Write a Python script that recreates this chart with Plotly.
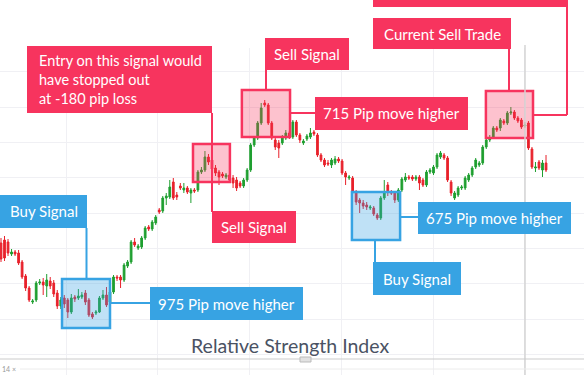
import plotly.graph_objects as go

# ---- data (price levels, arbitrary units) ----
opens = [117,120,118,106,108,107,98,84,72,58,60,77,78,74,79,77,67,54,62,60,48,63,62,63,67,60,46,47,48,62,
         65,58,68,83,83,80,94,98,118,112,113,122,133,131,137,150,149,162,163,178,165,174,170,172,167,170,170,188,190,203,
         200,192,188,186,183,185,182,180,177,174,180,190,215,222,237,257,255,237,220,217,217,222,227,223,238,225,217,221,223,228,
         225,205,200,197,195,197,201,199,187,182,182,168,160,157,155,152,152,145,142,162,175,168,167,160,170,180,183,183,181,183,
         180,175,188,187,193,203,205,202,178,162,165,172,172,180,185,193,195,197,213,220,223,232,232,239,237,247,248,242,240,234,
         237,211,192,198,190,197]
highs = [122,124,121,111,110,110,100,86,74,61,79,81,82,86,83,80,70,63,65,62,66,65,71,68,70,62,48,50,64,70,
         73,70,85,85,85,97,100,120,122,116,124,134,135,140,145,152,164,167,180,182,168,177,177,174,172,172,190,193,209,206,
         202,195,190,188,187,187,185,183,179,182,192,217,224,239,257,260,257,239,223,220,225,230,229,240,240,227,221,226,232,230,
         227,207,202,200,202,204,203,201,189,185,184,170,162,160,158,155,154,147,164,180,178,170,169,172,183,187,185,185,185,185,
         182,190,192,195,207,209,207,204,180,169,174,175,184,187,194,202,199,215,222,225,234,234,242,241,249,253,250,244,242,238,
         239,213,198,200,200,205]
lows = [98,99,104,104,104,95,81,69,58,56,58,75,65,63,71,63,51,51,52,42,46,58,60,61,55,43,41,45,47,60,
        53,56,66,79,72,78,92,96,113,110,111,120,129,129,135,146,147,155,161,160,160,170,167,166,157,167,168,186,188,195,
        188,184,175,182,181,178,172,169,172,172,178,188,213,220,235,253,235,220,210,202,215,220,221,221,223,217,215,219,221,224,
        203,198,193,194,192,195,197,185,175,180,166,155,147,151,150,150,144,140,140,160,164,165,157,158,168,178,180,179,179,170,
        173,173,186,185,191,201,200,178,164,160,163,170,170,178,183,191,193,195,211,218,221,228,229,235,235,245,240,237,231,232,
        210,191,188,190,183,188]
closes = [101,102,107,108,106,97,83,72,60,59,77,78,75,80,74,66,54,60,56,48,62,61,64,65,58,45,43,48,62,65,
          55,68,83,82,80,95,98,118,115,114,122,132,131,138,143,148,162,164,173,162,163,172,172,168,170,169,188,190,203,198,
          191,187,183,184,185,180,177,172,174,180,190,215,222,237,252,255,237,222,213,212,222,227,223,238,225,220,219,224,227,226,
          205,200,195,196,200,201,199,187,183,183,168,158,157,154,153,153,146,142,162,167,168,167,160,170,181,183,182,181,183,177,
          175,188,190,193,205,207,202,180,167,167,172,173,182,185,192,200,197,213,220,222,232,230,240,237,247,248,242,239,233,235,
          212,193,193,192,197,190]
candles = list(range(len(closes)))

# highlighted signal windows: (first candle, last candle, low level, high level)
buy_zones = [(17.35, 31.0, 32, 81), (99.8, 113.5, 120, 168)]
sell_zones = [(54.6, 65.1, 178, 216), (68.5, 82.2, 223, 270), (137.9, 151.3, 222, 269)]

RED = "#f7345e"
BLUE = "#37a3e3"
W, H = 584, 375
FONT = "Lato"

fig = go.Figure(go.Candlestick(
    x=candles, open=opens, high=highs, low=lows, close=closes,
    increasing=dict(line=dict(color="#1f9f30", width=1), fillcolor="#1f9f30"),
    decreasing=dict(line=dict(color="#e8212b", width=1), fillcolor="#e8212b"),
    whiskerwidth=0, hoverinfo="skip", showlegend=False,
))

def px(x):
    return x / W

def py(y):
    return 1 - y / H

shapes = []
annots = []

for x0, x1, y0, y1 in buy_zones:
    shapes.append(dict(type="rect", xref="x", yref="y", x0=x0, x1=x1, y0=y0, y1=y1,
                       fillcolor="rgba(55,163,227,0.32)", line=dict(color=BLUE, width=2.5)))
for x0, x1, y0, y1 in sell_zones:
    shapes.append(dict(type="rect", xref="x", yref="y", x0=x0, x1=x1, y0=y0, y1=y1,
                       fillcolor="rgba(247,52,94,0.30)", line=dict(color=RED, width=2.5)))

def line(x0, y0, x1, y1, color, width=2):
    shapes.append(dict(type="line", xref="paper", yref="paper", x0=px(x0), y0=py(y0),
                       x1=px(x1), y1=py(y1), line=dict(color=color, width=width)))

def label(x0, y0, x1, y1, color, text, tx=None, align="center", size=15):
    shapes.append(dict(type="rect", xref="paper", yref="paper", x0=px(x0), y0=py(y0),
                       x1=px(x1), y1=py(y1), fillcolor=color, line=dict(width=0)))
    if tx is None:
        annots.append(dict(x=px((x0 + x1) / 2), y=py((y0 + y1) / 2), xref="paper", yref="paper",
                           text=text, showarrow=False, xanchor="center", yanchor="middle",
                           font=dict(family=FONT, size=size, color="white")))
    else:
        annots.append(dict(x=px(tx), y=py((y0 + y1) / 2), xref="paper", yref="paper",
                           text=text, showarrow=False, xanchor="left", yanchor="middle", align=align,
                           font=dict(family=FONT, size=size, color="white")))

# crosshair / separators
line(525, 45, 525, 375, "#d4d4d4", 1.5)
line(0, 359, 584, 359, "#cccccc", 1.2)
line(20, 369, 584, 369, "#ececec", 1)
shapes.append(dict(type="rect", xref="paper", yref="paper", x0=px(300), x1=px(311), y0=py(362), y1=py(357),
                   fillcolor="#e2e2e2", line=dict(color="#bbbbbb", width=1)))

# red connectors
line(212, 113, 212, 212, RED)
line(266, 70, 266, 91, RED)
line(290, 113, 315, 113, RED)
line(509, 48, 509, 92, RED)
line(567, 6, 567, 115, RED)
line(532, 115, 567, 115, RED)
# blue connectors
line(86.5, 228, 86.5, 280, BLUE)
line(110, 303, 150, 303, BLUE)
line(375, 240, 375, 262, BLUE)
line(400, 217, 418, 217, BLUE)

label(27, 46, 212, 113, RED, "Entry on this signal would<br>have stopped out<br>at -180 pip loss",
      tx=37, align="left", size=14.5)
label(212, 211, 296, 243, RED, "Sell Signal")
label(265, 38, 349, 70, RED, "Sell Signal")
label(315, 97, 468, 130, RED, "715 Pip move higher")
label(373, 18, 511, 49, RED, "Current Sell Trade")
label(373, -27, 568, 7, RED, "Keep profits at Trend Line", tx=385)
label(0, 195, 87, 228, BLUE, "Buy Signal")
label(150, 287, 303, 320, BLUE, "975 Pip move higher")
label(373, 262, 461, 295, BLUE, "Buy Signal")
label(418, 202, 571, 234, BLUE, "675 Pip move higher")

annots.append(dict(x=px(290), y=py(345), xref="paper", yref="paper", text="Relative Strength Index",
                   showarrow=False, xanchor="center", yanchor="middle",
                   font=dict(family=FONT, size=19.5, color="#4a5263")))
annots.append(dict(x=0, y=py(369), xref="paper", yref="paper", text="14 ×", showarrow=False,
                   xanchor="left", yanchor="middle", font=dict(family=FONT, size=7, color="#999999")))

fig.update_layout(
    width=W, height=H, margin=dict(l=0, r=0, t=0, b=0),
    paper_bgcolor="white", plot_bgcolor="white",
    shapes=shapes, annotations=annots, showlegend=False,
    xaxis=dict(range=[-0.284, 165.8], rangeslider=dict(visible=False), showticklabels=False,
               showgrid=True, gridcolor="#f0f0f4", gridwidth=1, tickmode="linear", tick0=18.5, dtick=26.1,
               zeroline=False, showline=False, ticks=""),
    yaxis=dict(domain=[0, 1 - 48 / H], range=[-15, 312], showticklabels=False,
               showgrid=True, gridcolor="#f0f0f4", gridwidth=1, tickmode="linear", tick0=41, dtick=35.3,
               zeroline=False, showline=False, ticks=""),
)

fig.write_html("out.html", config={"displayModeBar": False},
               post_script="document.body.style.margin='0';document.body.style.overflow='hidden';")
